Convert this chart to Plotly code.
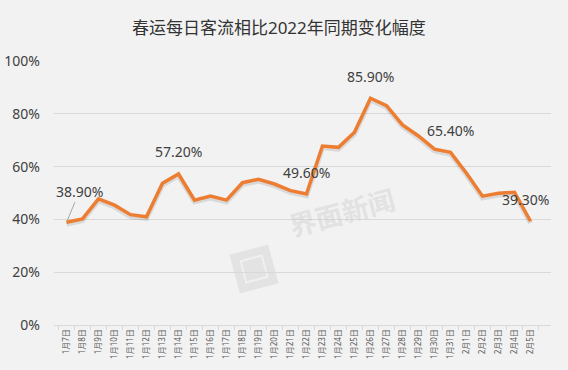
import math
import plotly.graph_objects as go

dates = ["1月7日", "1月8日", "1月9日", "1月10日", "1月11日", "1月12日", "1月13日", "1月14日",
         "1月15日", "1月16日", "1月17日", "1月18日", "1月19日", "1月20日", "1月21日", "1月22日",
         "1月23日", "1月24日", "1月25日", "1月26日", "1月27日", "1月28日", "1月29日", "1月30日",
         "1月31日", "2月1日", "2月2日", "2月3日", "2月4日", "2月5日"]
values = [0.389, 0.402, 0.478, 0.454, 0.418, 0.410, 0.537, 0.572,
          0.473, 0.488, 0.473, 0.539, 0.552, 0.534, 0.509, 0.496,
          0.678, 0.673, 0.730, 0.859, 0.831, 0.758, 0.716, 0.666,
          0.654, 0.575, 0.488, 0.499, 0.503, 0.393]
labeled_dates = ["1月7日", "1月14日", "1月22日", "1月26日", "1月31日", "2月5日"]
y_ticks = [0, 0.2, 0.4, 0.6, 0.8, 1.0]

FONT = "Noto Sans, Noto Sans CJK SC, sans-serif"
ORANGE = "#ED7D31"
W, H = 568, 370
ML, MR, MT, MB = 54, 17, 61, 45
PW, PH = W - ML - MR, H - MT - MB


def to_paper(px, py):
    return (px - ML) / PW, (H - MB - py) / PH


def rot_square_path(cx, cy, size, ang_deg):
    a = math.radians(ang_deg)
    h = size / 2
    pts = [(-h, -h), (h, -h), (h, h), (-h, h)]
    out = []
    for x, y in pts:
        rx = cx + x * math.cos(a) - y * math.sin(a)
        ry = cy + x * math.sin(a) + y * math.cos(a)
        out.append(to_paper(rx, ry))
    return "M " + " L ".join(f"{x:.4f},{y:.4f}" for x, y in out) + " Z"


fig = go.Figure()
fig.add_trace(go.Scatter(x=dates, y=[v - 0.007 for v in values], mode="lines",
                         line=dict(color="rgba(0,0,0,0.10)", width=5),
                         hoverinfo="skip", showlegend=False))
fig.add_trace(go.Scatter(x=dates, y=values, mode="lines",
                         line=dict(color=ORANGE, width=3.5),
                         showlegend=False))

annotations = []
for d in labeled_dates:
    i = dates.index(d)
    v = values[i]
    txt = f"{v*100:.2f}%"
    if d == "1月7日":
        annotations.append(dict(x=d, y=v, xref="x", yref="y", text=txt,
                                showarrow=True, arrowhead=0, arrowwidth=1,
                                arrowcolor="#a6a6a6", ax=13, ay=-31, standoff=2,
                                font=dict(family=FONT, size=14, color="#404040")))
    else:
        xs = -5 if d == "2月5日" else 0
        annotations.append(dict(x=d, y=v, xref="x", yref="y", text=txt,
                                showarrow=False, yshift=22, xshift=xs,
                                font=dict(family=FONT, size=14, color="#404040")))

# watermark text
wx, wy = to_paper(342, 247)
annotations.append(dict(x=wx, y=wy, xref="paper", yref="paper", text="<b>界面新闻</b>",
                        showarrow=False, textangle=-15,
                        font=dict(family=FONT, size=27, color="rgba(200,200,200,0.40)")))

shapes = [
    dict(type="path", xref="paper", yref="paper", path=rot_square_path(254, 269, 40, -15),
         line=dict(width=0), fillcolor="rgba(200,200,200,0.35)", layer="below"),
    dict(type="path", xref="paper", yref="paper", path=rot_square_path(254, 269, 22, -15),
         line=dict(width=2, color="rgba(242,242,242,0.8)"), fillcolor="rgba(0,0,0,0)",
         layer="below"),
]

fig.update_layout(
    width=W, height=H,
    margin=dict(l=ML, r=MR, t=MT, b=MB),
    paper_bgcolor="#f2f2f2", plot_bgcolor="#f2f2f2",
    title=dict(text="春运每日客流相比2022年同期变化幅度", x=0.491, xref="container",
               y=0.924, yref="container", xanchor="center", yanchor="middle",
               font=dict(family=FONT, size=17, color="#333333")),
    annotations=annotations,
    shapes=shapes,
    xaxis=dict(type="category", tickangle=-90, showgrid=False, automargin=False,
               showline=True, linecolor="#d9d9d9", linewidth=1,
               ticks="outside", tickson="boundaries", ticklen=4, tickcolor="#d9d9d9",
               tickfont=dict(family=FONT, size=8, color="#595959"),
               fixedrange=True),
    yaxis=dict(range=[0, 1.0], tickvals=y_ticks, tickformat=".0%", automargin=False,
               showgrid=True, gridcolor="#d9d9d9", gridwidth=1,
               zeroline=False, showline=False, ticks="",
               ticklabelstandoff=13,
               tickfont=dict(family=FONT, size=14, color="#404040")),
)

fig.write_html("out.html", config={"displayModeBar": False},
               post_script="document.body.style.margin='0';document.body.style.overflow='hidden';")
